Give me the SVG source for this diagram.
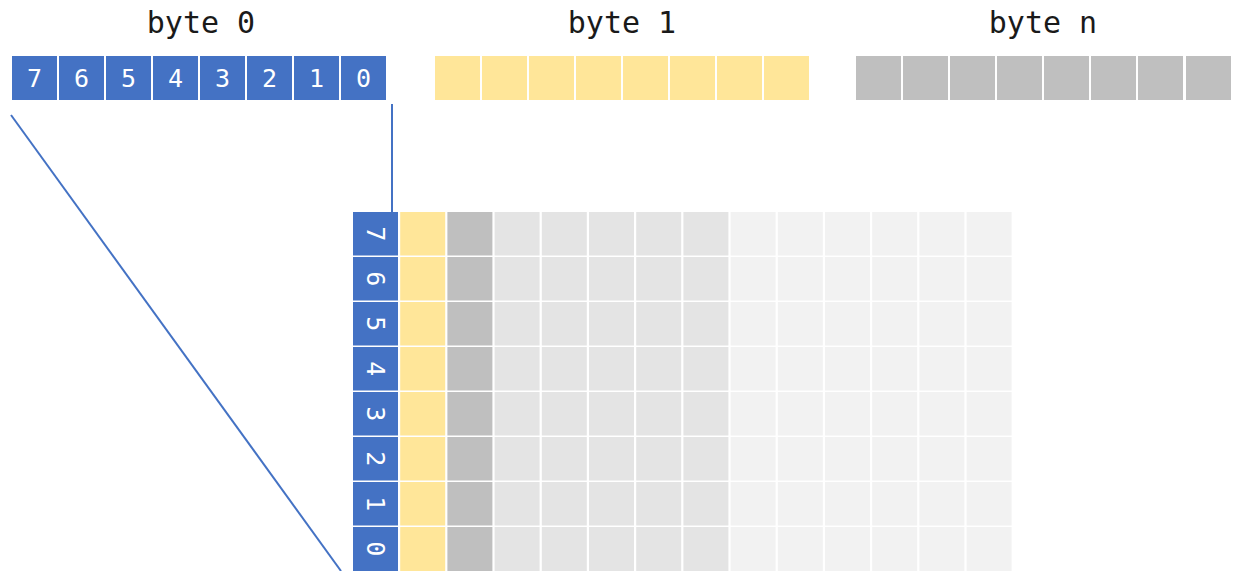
<svg xmlns="http://www.w3.org/2000/svg" width="1238" height="571" viewBox="0 0 1238 571">
<style>
.title{font-family:"DejaVu Sans Mono","Liberation Mono",monospace;font-size:30px;fill:#1a1a1a;text-anchor:middle}
.dig{font-family:"DejaVu Sans Mono","Liberation Mono",monospace;font-size:25px;fill:#ffffff;text-anchor:middle;dominant-baseline:central}
.b{fill:#4472C4}
.y{fill:#FFE699}
.g{fill:#BFBFBF}
.m{fill:#E4E4E4}
.l{fill:#F2F2F2}
.conn{stroke:#4472C4;stroke-width:2;fill:none}
</style>
<defs>
<rect id="tc" width="45" height="44"/>
<g id="col">
<rect y="212" width="45" height="43.5"/><rect y="257" width="45" height="43.5"/><rect y="302" width="45" height="43.5"/><rect y="347" width="45" height="43.5"/>
<rect y="392" width="45" height="43.5"/><rect y="437" width="45" height="43.5"/><rect y="482" width="45" height="43.5"/><rect y="527" width="45" height="44"/>
</g>
</defs>
<rect width="1238" height="571" fill="#ffffff"/>
<g id="connectors">
<line class="conn" x1="11" y1="115" x2="341" y2="571"/>
<line class="conn" x1="392" y1="104" x2="392" y2="212"/>
</g>
<g id="byte0">
<text class="title" x="201" y="33">byte 0</text>
<use href="#tc" class="b" x="12" y="56"/><use href="#tc" class="b" x="59" y="56"/><use href="#tc" class="b" x="106" y="56"/><use href="#tc" class="b" x="153" y="56"/>
<use href="#tc" class="b" x="200" y="56"/><use href="#tc" class="b" x="247" y="56"/><use href="#tc" class="b" x="294" y="56"/><use href="#tc" class="b" x="341" y="56"/>
<text class="dig" x="34.5" y="78">7</text><text class="dig" x="81.5" y="78">6</text><text class="dig" x="128.5" y="78">5</text><text class="dig" x="175.5" y="78">4</text>
<text class="dig" x="222.5" y="78">3</text><text class="dig" x="269.5" y="78">2</text><text class="dig" x="316.5" y="78">1</text><text class="dig" x="363.5" y="78">0</text>
</g>
<g id="byte1">
<text class="title" x="622" y="33">byte 1</text>
<use href="#tc" class="y" x="435" y="56"/><use href="#tc" class="y" x="482" y="56"/><use href="#tc" class="y" x="529" y="56"/><use href="#tc" class="y" x="576" y="56"/>
<use href="#tc" class="y" x="623" y="56"/><use href="#tc" class="y" x="670" y="56"/><use href="#tc" class="y" x="717" y="56"/><use href="#tc" class="y" x="764" y="56"/>
</g>
<g id="byten">
<text class="title" x="1043" y="33">byte n</text>
<use href="#tc" class="g" x="856" y="56"/><use href="#tc" class="g" x="903" y="56"/><use href="#tc" class="g" x="950" y="56"/><use href="#tc" class="g" x="997" y="56"/>
<use href="#tc" class="g" x="1044" y="56"/><use href="#tc" class="g" x="1091" y="56"/><use href="#tc" class="g" x="1138" y="56"/><use href="#tc" class="g" x="1186" y="56"/>
</g>
<g id="grid">
<use href="#col" class="b" x="353"/>
<use href="#col" class="y" x="400.2"/>
<use href="#col" class="g" x="447.4"/>
<use href="#col" class="m" x="494.6"/>
<use href="#col" class="m" x="541.8"/>
<use href="#col" class="m" x="589"/>
<use href="#col" class="m" x="636.2"/>
<use href="#col" class="m" x="683.4"/>
<use href="#col" class="l" x="730.6"/>
<use href="#col" class="l" x="777.8"/>
<use href="#col" class="l" x="825"/>
<use href="#col" class="l" x="872.2"/>
<use href="#col" class="l" x="919.4"/>
<use href="#col" class="l" x="966.6"/>
<text class="dig" transform="translate(375.5 233.75) rotate(90)">7</text>
<text class="dig" transform="translate(375.5 278.75) rotate(90)">6</text>
<text class="dig" transform="translate(375.5 323.75) rotate(90)">5</text>
<text class="dig" transform="translate(375.5 368.75) rotate(90)">4</text>
<text class="dig" transform="translate(375.5 413.75) rotate(90)">3</text>
<text class="dig" transform="translate(375.5 458.75) rotate(90)">2</text>
<text class="dig" transform="translate(375.5 503.75) rotate(90)">1</text>
<text class="dig" transform="translate(375.5 548.75) rotate(90)">0</text>
</g>
</svg>
